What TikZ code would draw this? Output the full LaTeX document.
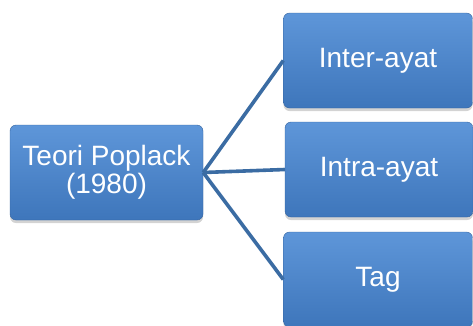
\documentclass[tikz,border=0pt]{standalone}
\usepackage{fontspec}
\setmainfont{Liberation Sans}
\usetikzlibrary{shadows}
\definecolor{boxtop}{HTML}{5E96D9}
\definecolor{boxbot}{HTML}{3E76BB}
\definecolor{linkblue}{HTML}{3B6CA3}

\tikzset{
  topic/.style={rounded corners=6pt, top color=boxtop, bottom color=boxbot,
    draw=boxbot!85!black, line width=0.4pt, text=white, align=center,
    font=\fontsize{28}{28}\selectfont, inner sep=0pt,
    drop shadow={shadow xshift=0pt, shadow yshift=-3pt, opacity=0.35}},
  link/.style={draw=linkblue, line width=3.6pt}
}

\begin{document}
\begin{tikzpicture}[x=1pt,y=1pt]
  \useasboundingbox (0,0) rectangle (473,-325);
  \node [topic, minimum width=193pt, minimum height=95pt] (teori) at (106.5,-172.5) {Teori Poplack\\(1980)};
  \node [topic, minimum width=189pt, minimum height=95pt] (inter) at (378,-60.5) {Inter-ayat};
  \node [topic, minimum width=188pt, minimum height=95pt] (intra) at (379,-169.5) {Intra-ayat};
  \node [topic, minimum width=189pt, minimum height=95pt] (tag) at (378,-279.5) {Tag};
  \draw [link] (teori.east) -- (inter.west);
  \draw [link] (teori.east) -- (intra.west);
  \draw [link] (teori.east) -- (tag.west);
\end{tikzpicture}
\end{document}
